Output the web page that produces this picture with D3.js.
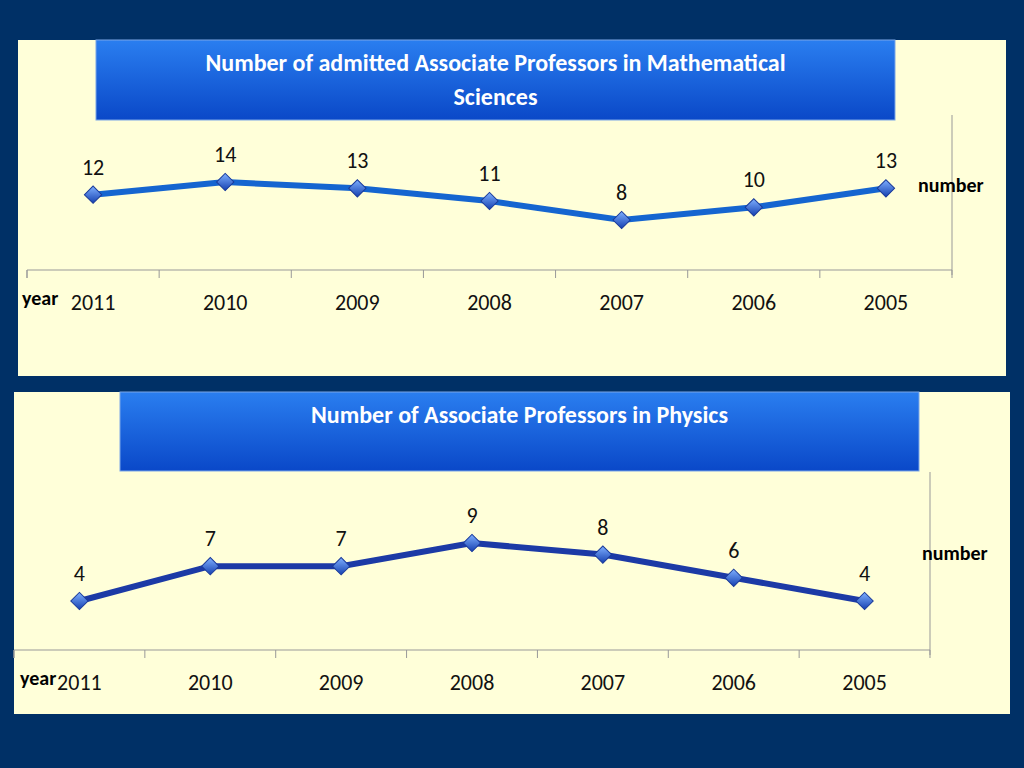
<!DOCTYPE html>
<html><head><meta charset="utf-8">
<script src="https://cdn.jsdelivr.net/npm/d3@7"></script>
<style>body{margin:0;background:#003066;}svg{display:block;font-family:Calibri,Carlito,"Open Sans",sans-serif;}</style>
</head><body>
<svg id="c" width="1024" height="768"></svg>
<script>
var years = ["2011", "2010", "2009", "2008", "2007", "2006", "2005"];
var mathValues = [12, 14, 13, 11, 8, 10, 13];
var physValues = [4, 7, 7, 9, 8, 6, 4];

var svg = d3.select("#c");
var defs = svg.append("defs");
var tg = defs.append("linearGradient").attr("id", "tbox").attr("x1", 0).attr("y1", 0).attr("x2", 0).attr("y2", 1);
tg.append("stop").attr("offset", "0%").attr("stop-color", "#2a7ef0");
tg.append("stop").attr("offset", "100%").attr("stop-color", "#0a48c8");
var mg = defs.append("linearGradient").attr("id", "mk").attr("x1", 0).attr("y1", 0).attr("x2", 1).attr("y2", 1);
mg.append("stop").attr("offset", "0%").attr("stop-color", "#7fb0ff");
mg.append("stop").attr("offset", "100%").attr("stop-color", "#1540b0");

function panel(p) {
  var g = svg.append("g");
  g.append("rect").attr("x", p.x0).attr("y", p.y0).attr("width", p.x1 - p.x0).attr("height", p.y1 - p.y0).attr("fill", "#ffffd9");
  g.append("rect").attr("x", p.tx0).attr("y", p.y0).attr("width", p.tx1 - p.tx0).attr("height", p.th)
    .attr("fill", "url(#tbox)").attr("stroke", "#7aa6e8").attr("stroke-width", 1);
  p.title.forEach(function (t, i) {
    g.append("text").attr("x", (p.tx0 + p.tx1) / 2).attr("y", p.ty + i * 34).attr("text-anchor", "middle")
      .attr("fill", "white").attr("font-weight", "bold").attr("font-size", 24).text(t);
  });
  var x = d3.scaleBand().domain(years).range([p.ax0, p.ax1]);
  var y = d3.scaleLinear().domain(p.dom).range(p.rng);
  var axis = d3.axisBottom(x).tickSize(8).tickFormat("");
  var ag = g.append("g").attr("transform", "translate(0," + p.ay + ")").call(axis);
  ag.select(".domain").attr("stroke", "#999").attr("d", "M" + p.ax0 + ",8V0H" + p.ax1 + "V8");
  ag.selectAll(".tick line").attr("stroke", "#999").attr("transform", "translate(" + (-x.bandwidth() / 2) + ",0)");
  g.append("line").attr("x1", p.ax1).attr("x2", p.ax1).attr("y1", p.vy).attr("y2", p.ay + 5).attr("stroke", "#999");
  years.forEach(function (d) {
    g.append("text").attr("x", x(d) + x.bandwidth() / 2).attr("y", p.ay + 40).attr("text-anchor", "middle")
      .attr("font-size", 22).attr("fill", "#111").text(d);
  });
  var cx = function (d, i) { return x(years[i]) + x.bandwidth() / 2; };
  g.append("path").datum(p.values).attr("fill", "none").attr("stroke", p.color).attr("stroke-width", 6)
    .attr("d", d3.line().x(cx).y(function (d) { return y(d); }));
  g.selectAll(".mk").data(p.values).enter().append("path")
    .attr("d", d3.symbol(d3.symbolSquare, 150)())
    .attr("transform", function (d, i) { return "translate(" + cx(d, i) + "," + y(d) + ") rotate(45)"; })
    .attr("fill", "url(#mk)").attr("stroke", "#1a3a9a").attr("stroke-width", 1);
  g.selectAll(".lb").data(p.values).enter().append("text")
    .attr("x", cx).attr("y", function (d) { return y(d) - 20; }).attr("text-anchor", "middle")
    .attr("font-size", 22).attr("fill", "#111").text(function (d) { return d; });
  g.append("text").attr("x", p.yrx).attr("y", p.ay + 35).attr("font-weight", "bold").attr("font-size", 20).text("year");
  g.append("text").attr("x", p.nx).attr("y", p.ny).attr("font-weight", "bold").attr("font-size", 20).text("number");
}

panel({x0: 18, x1: 1006, y0: 40, y1: 376, tx0: 96, tx1: 895, th: 80, ty: 71,
  title: ["Number of admitted Associate Professors in Mathematical", "Sciences"],
  ax0: 27, ax1: 952, ay: 270, vy: 115, dom: [8, 14], rng: [220, 182],
  values: mathValues, color: "#1565d0", yrx: 22, nx: 918, ny: 192});
panel({x0: 14, x1: 1010, y0: 392, y1: 714, tx0: 120, tx1: 919, th: 79, ty: 423,
  title: ["Number of Associate Professors in Physics"],
  ax0: 14, ax1: 930, ay: 650, vy: 472, dom: [4, 9], rng: [601, 543],
  values: physValues, color: "#1c3aa6", yrx: 20, nx: 922, ny: 560});
</script>
</body></html>
